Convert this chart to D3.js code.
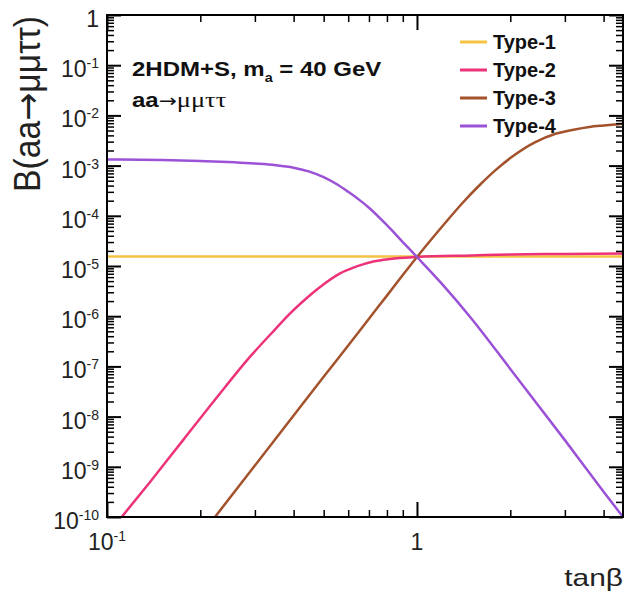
<!DOCTYPE html>
<html>
<head>
<meta charset="utf-8">
<script src="https://cdn.jsdelivr.net/npm/d3@7"></script>
<style>
  body { margin: 0; background: #fff; }
  svg { font-family: "Liberation Sans", Arial, Helvetica, sans-serif; }
</style>
</head>
<body>
<svg width="625" height="601"></svg>
<script>
// B(aa -> mu mu tau tau) vs tan(beta), one array pair per 2HDM type
var type1Tan = [0.1, 4.62];
var type1B   = [1.55e-5, 1.55e-5];

var type2Tan = [0.1115, 0.1377, 0.176, 0.226, 0.29, 0.35, 0.389, 0.441, 0.499, 0.565, 0.639, 0.723, 0.818, 1.0, 1.5, 2.0, 3.0, 4.62];
var type2B   = [1.0e-10, 5.0e-10, 3.4e-9, 2.4e-8, 1.58e-7, 5.6e-7, 1.12e-6, 2.3e-6, 4.27e-6, 7.1e-6, 9.8e-6, 1.23e-5, 1.38e-5, 1.51e-5, 1.62e-5, 1.70e-5, 1.74e-5, 1.78e-5];

var type3Tan = [0.223, 0.3, 0.4, 0.5, 0.6, 0.7, 0.8, 0.9, 1.0, 1.2, 1.4, 1.6, 1.8, 2.0, 2.4, 2.8, 3.2, 3.6, 4.0, 4.62];
var type3B   = [1.0e-10, 1.06e-9, 1.05e-8, 6.2e-8, 2.6e-7, 8.9e-7, 2.57e-6, 6.6e-6, 1.51e-5, 5.9e-5, 1.78e-4, 4.2e-4, 8.3e-4, 1.41e-3, 2.9e-3, 4.3e-3, 5.2e-3, 5.9e-3, 6.3e-3, 6.8e-3];

var type4Tan = [0.1, 0.15, 0.2, 0.3, 0.35, 0.4, 0.45, 0.5, 0.55, 0.6, 0.65, 0.7, 0.8, 0.9, 1.0, 1.2, 1.5, 2.0, 3.0, 4.0, 4.62];
var type4B   = [1.33e-3, 1.29e-3, 1.23e-3, 1.10e-3, 1.02e-3, 9.1e-4, 7.6e-4, 5.9e-4, 4.3e-4, 3.0e-4, 2.1e-4, 1.45e-4, 6.5e-5, 3.0e-5, 1.51e-5, 4.5e-6, 8.9e-7, 8.9e-8, 3.4e-9, 3.2e-10, 1.0e-10];

var seriesNames  = ["Type-1", "Type-2", "Type-3", "Type-4"];
var seriesColors = ["#f6c244", "#ec3379", "#a3522b", "#9b52d6"];

// axis ticks
var yExponents  = [0, -1, -2, -3, -4, -5, -6, -7, -8, -9, -10];
var xMajorTicks = [0.1, 1];
var xMinorTicks = [0.2, 0.3, 0.4, 0.5, 0.6, 0.7, 0.8, 0.9, 2, 3, 4];

var svg = d3.select("svg"),
    plotLeft = 107, plotRight = 623, plotTop = 15, plotBottom = 517;

var x = d3.scaleLog().domain([0.1, 4.62]).range([plotLeft, plotRight]),
    y = d3.scaleLog().domain([1e-10, 1]).range([plotBottom, plotTop]);

var series = [
    d3.zip(type1Tan, type1B),
    d3.zip(type2Tan, type2B),
    d3.zip(type3Tan, type3B),
    d3.zip(type4Tan, type4B)
];

svg.append("clipPath").attr("id", "plot")
    .append("rect")
    .attr("x", plotLeft).attr("y", plotTop)
    .attr("width", plotRight - plotLeft).attr("height", plotBottom - plotTop);

var line = d3.line()
    .x(function (d) { return x(d[0]); })
    .y(function (d) { return y(d[1]); })
    .curve(d3.curveMonotoneX);

svg.append("g")
    .attr("clip-path", "url(#plot)")
    .selectAll("path")
    .data(series)
    .enter().append("path")
    .attr("d", line)
    .attr("fill", "none")
    .attr("stroke", function (d, i) { return seriesColors[i]; })
    .attr("stroke-width", 2.5);

// tick marks on all four sides
var yMajor = yExponents.map(function (e) { return Math.pow(10, e); });
var yMinor = [];
yExponents.slice(1).forEach(function (e) {
    for (var k = 2; k <= 9; k++) yMinor.push(k * Math.pow(10, e));
});

function drawTicks(axis, tx, ty, size, width) {
    var g = svg.append("g")
        .attr("transform", "translate(" + tx + "," + ty + ")")
        .call(axis.tickSize(size).tickFormat(""));
    g.select(".domain").remove();
    g.selectAll("line").attr("stroke", "#000").attr("stroke-width", width);
}

drawTicks(d3.axisRight(y).tickValues(yMajor), plotLeft, 0, 14, 2);
drawTicks(d3.axisRight(y).tickValues(yMinor), plotLeft, 0, 7, 1.5);
drawTicks(d3.axisLeft(y).tickValues(yMajor), plotRight, 0, 14, 2);
drawTicks(d3.axisLeft(y).tickValues(yMinor), plotRight, 0, 7, 1.5);
drawTicks(d3.axisTop(x).tickValues(xMajorTicks), 0, plotBottom, 15, 2);
drawTicks(d3.axisTop(x).tickValues(xMinorTicks), 0, plotBottom, 7, 1.5);
drawTicks(d3.axisBottom(x).tickValues(xMajorTicks), 0, plotTop, 15, 2);
drawTicks(d3.axisBottom(x).tickValues(xMinorTicks), 0, plotTop, 7, 1.5);

svg.append("rect")
    .attr("x", plotLeft).attr("y", plotTop)
    .attr("width", plotRight - plotLeft).attr("height", plotBottom - plotTop)
    .attr("fill", "none")
    .attr("stroke", "#000")
    .attr("stroke-width", 2);

// power-of-ten labels
function powerLabel(sel, e) {
    if (e === 0) { sel.text("1"); return; }
    sel.append("tspan").text("10");
    sel.append("tspan").attr("dy", -9).attr("font-size", 14).text("-" + (-e));
}

svg.append("g").selectAll("text")
    .data(yExponents)
    .enter().append("text")
    .attr("x", 99)
    .attr("y", function (e) { return y(Math.pow(10, e)) + 12; })
    .attr("text-anchor", "end")
    .attr("font-size", 23)
    .attr("fill", "#222")
    .each(function (e) { powerLabel(d3.select(this), e); });

svg.append("g").selectAll("text")
    .data(xMajorTicks)
    .enter().append("text")
    .attr("x", function (d) { return x(d); })
    .attr("y", 550)
    .attr("text-anchor", "middle")
    .attr("font-size", 23)
    .attr("fill", "#222")
    .each(function (d) { powerLabel(d3.select(this), Math.round(Math.log10(d))); });

// axis titles
var yTitle = svg.append("g")
    .attr("transform", "translate(40,104) rotate(-90)")
    .append("text")
    .attr("text-anchor", "middle")
    .attr("font-size", 36)
    .attr("textLength", 176)
    .attr("lengthAdjust", "spacingAndGlyphs")
    .attr("fill", "#222");
yTitle.append("tspan").text("B(aa");
yTitle.append("tspan").attr("font-family", "'DejaVu Sans', sans-serif").text("\u2192");
yTitle.append("tspan").text("\u03bc\u03bc\u03c4\u03c4)");

svg.append("g")
    .attr("transform", "translate(623,586) scale(1.3,1)")
    .append("text")
    .attr("text-anchor", "end")
    .attr("font-size", 23)
    .attr("fill", "#222")
    .text("tan\u03b2");

// model annotation
var note = svg.append("g")
    .attr("transform", "translate(132,76) scale(1.2,1)")
    .attr("font-weight", "bold")
    .attr("fill", "#111");

var t1 = note.append("text").attr("font-size", 20);
t1.append("tspan").text("2HDM+S, m");
t1.append("tspan").attr("font-size", 12).attr("dy", 6).text("a");
t1.append("tspan").attr("dy", -6).text(" = 40 GeV");

var t2 = note.append("text").attr("y", 31).attr("font-size", 20);
t2.append("tspan").text("aa");
t2.append("tspan")
    .attr("font-family", "'DejaVu Sans', sans-serif")
    .attr("font-weight", "normal")
    .attr("font-size", 18)
    .text("\u2192");
t2.append("tspan")
    .attr("font-family", "'Liberation Serif', serif")
    .attr("font-weight", "normal")
    .attr("font-size", 22)
    .text("\u03bc\u03bc\u03c4\u03c4");

// legend
var legend = svg.append("g").selectAll("g")
    .data(seriesNames)
    .enter().append("g")
    .attr("transform", function (d, i) { return "translate(460," + (42 + 28 * i) + ")"; });

legend.append("line")
    .attr("x1", 0).attr("x2", 27)
    .attr("stroke", function (d, i) { return seriesColors[i]; })
    .attr("stroke-width", 3);

legend.append("text")
    .attr("x", 33)
    .attr("y", 7)
    .attr("font-size", 20)
    .attr("font-weight", "bold")
    .attr("fill", "#111")
    .text(function (d) { return d; });
</script>
</body>
</html>
